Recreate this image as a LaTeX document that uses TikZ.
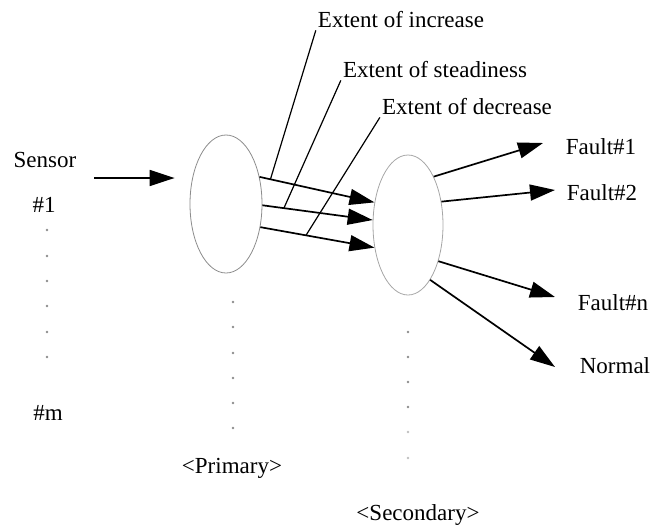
\documentclass[tikz,border=0pt]{standalone}
\usepackage{fontspec}
\setmainfont{Liberation Serif}
\usetikzlibrary{arrows.meta,shapes.geometric}

\begin{document}
\begin{tikzpicture}[x=1pt,y=-1pt,
  lbl/.style={font=\fontsize{23}{26}\selectfont, inner sep=2pt},
  blob/.style={draw=black!45, line width=0.8pt, ellipse, inner sep=0pt},
  flow/.style={line width=1.7pt, -{Triangle[length=25pt,width=16pt]}},
  tag/.style={line width=1.2pt}]
\useasboundingbox (0,0) rectangle (651,528);
\node[blob, minimum width=72pt, minimum height=138pt] (prim) at (226,204) {};
\node[blob, draw=black!35, minimum width=70pt, minimum height=140pt] (sec) at (408,225) {};
\node[lbl] (sensor) at (45,160) {Sensor};
\node[lbl] (s1) at (44,205) {\#1};
\node[lbl] (sm) at (48,413) {\#m};
\node[lbl] (inc) at (401,20) {Extent of increase};
\node[lbl] (std) at (435,70) {Extent of steadiness};
\node[lbl] (dec) at (467,107) {Extent of decrease};
\node[lbl] (f1) at (601,147) {Fault\#1};
\node[lbl] (f2) at (602,193) {Fault\#2};
\node[lbl] (fn) at (613,303) {Fault\#n};
\node[lbl] (nrm) at (615,366) {Normal};
\node[lbl] (primtxt) at (232,468) {<Primary>};
\node[lbl] (sectxt) at (418,515) {<Secondary>};
\coordinate (src) at (94,178);
\coordinate (t1) at (543,143);
\coordinate (t2) at (555,190);
\coordinate (tn) at (555,297);
\coordinate (tz) at (555,367);
\draw[flow, shorten >=15pt] (src) -- (src -| prim.west);
\draw[flow] (prim.39) -- coordinate[pos=0.095] (m1) (sec.146);
\draw[flow] (prim.-2) -- coordinate[pos=0.195] (m2) (sec.172);
\draw[flow] (prim.-34) -- coordinate[pos=0.4] (m3) (sec.214);
\draw[tag] (inc.south west) -- (m1);
\draw[tag] (std.south west) -- (m2);
\draw[tag] (dec.south west) -- (m3);
\draw[flow] (sec.62) -- (t1);
\draw[flow] (sec.35) -- (t2);
\draw[flow] (sec.-50) -- (tn);
\draw[flow] (sec.-68) -- (tz);
\fill[black!45] (47,230) circle (1.3);
\fill[black!45] (47,256) circle (1.3);
\fill[black!45] (47,281) circle (1.3);
\fill[black!45] (47,306) circle (1.3);
\fill[black!45] (47,332) circle (1.3);
\fill[black!45] (47,357) circle (1.3);
\fill[black!45] (233,302) circle (1.3);
\fill[black!45] (233,327) circle (1.3);
\fill[black!45] (233,353) circle (1.3);
\fill[black!45] (233,378) circle (1.3);
\fill[black!45] (233,403) circle (1.3);
\fill[black!45] (233,428) circle (1.3);
\fill[black!45] (408,332) circle (1.3);
\fill[black!45] (408,357) circle (1.3);
\fill[black!45] (408,382) circle (1.3);
\fill[black!45] (408,407) circle (1.3);
\fill[black!25] (408,432) circle (1.3);
\fill[black!25] (408,458) circle (1.3);
\end{tikzpicture}
\end{document}
